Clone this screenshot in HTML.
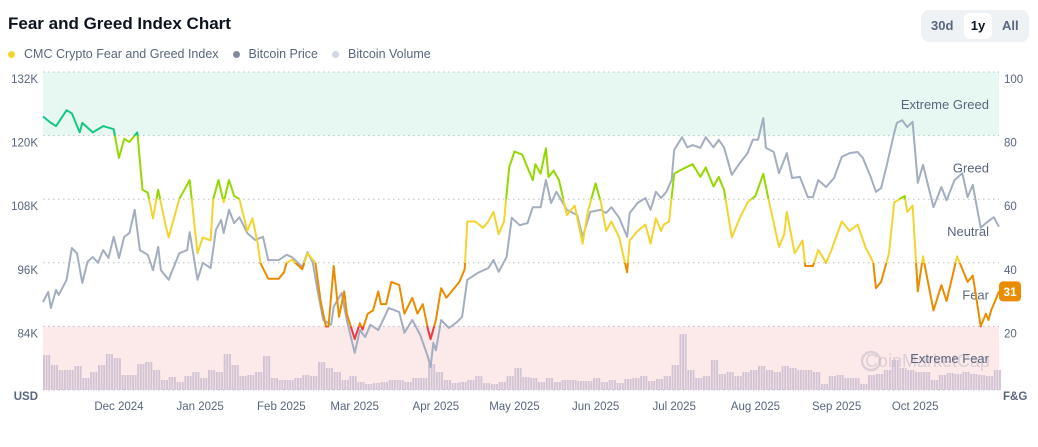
<!DOCTYPE html>
<html><head><meta charset="utf-8"><style>
body{margin:0;background:#fff;font-family:"Liberation Sans",sans-serif;width:1038px;height:447px;overflow:hidden;position:relative}
.t{position:absolute;white-space:nowrap}
</style></head><body>
<div class="t" style="left:8px;top:14px;font-size:17px;font-weight:bold;color:#0d1421">Fear and Greed Index Chart</div>
<div style="position:absolute;left:8px;top:47px;font-size:12.5px;color:#58667e;display:flex;gap:14px;align-items:center">
 <span><span style="display:inline-block;width:7px;height:7px;border-radius:50%;background:#f3d42f;margin-right:9px"></span>CMC Crypto Fear and Greed Index</span>
 <span><span style="display:inline-block;width:7px;height:7px;border-radius:50%;background:#808a9d;margin-right:9px"></span>Bitcoin Price</span>
 <span><span style="display:inline-block;width:7px;height:7px;border-radius:50%;background:#cfd6e4;margin-right:9px"></span>Bitcoin Volume</span>
</div>
<div style="position:absolute;left:921px;top:10px;width:108px;height:32px;background:#eff2f5;border-radius:8px;font-size:13px;font-weight:bold;color:#58667e">
 <span class="t" style="left:10px;top:8px">30d</span>
 <span class="t" style="left:43px;top:3px;width:28px;height:26px;background:#fff;border-radius:6px;color:#0d1421;text-align:center;line-height:26px">1y</span>
 <span class="t" style="left:81px;top:8px">All</span>
</div>
<svg id="chart" width="1038" height="447" style="position:absolute;left:0;top:0" font-family="Liberation Sans, sans-serif"></svg>
<script>
const fgDays=[0,3,5,9,11,14,15,19,23,27,29,31,33,36,38,40,42,44,47,48,52,56,59,61,64,65,67,69,71,73,75,78,80,82,83,86,90,92,93,95,99,101,104,106,108,109,111,113,115,116,119,121,122,124,126,128,129,131,133,136,138,141,143,145,147,148,150,152,154,157,159,161,162,165,168,170,172,174,176,178,180,183,185,187,188,190,192,193,195,197,200,203,206,208,211,213,215,217,220,223,224,227,230,232,234,236,237,239,241,243,248,251,253,256,258,260,263,266,269,272,275,277,281,283,284,287,290,291,294,296,299,301,305,308,311,314,317,318,320,323,325,329,330,332,334,336,340,343,345,349,353,355,358,360,361,362,365];
const fgValues=[86,84,83,88,87,81,84,81,83,82,73,79,78,81,63,62,54,63,51,48,60,66,43,48,47,60,66,59,66,61,60,50,54,46,40,35,35,37,40,41,38,43,40,28,20,20,39,23,31,24,16,21,19,24,25,31,27,27,34,33,24,29,24,27,19,16,22,32,29,32,34,38,53,53,51,53,56,49,53,70,75,74,70,66,71,68,76,67,69,66,55,58,46,56,65,59,50,53,48,37,47,50,52,46,54,50,52,53,68,69,71,67,70,64,67,63,48,54,59,61,68,60,45,49,56,43,47,39,39,44,40,44,53,50,52,45,40,32,34,43,59,61,56,58,31,42,25,33,28,42,34,36,20,24,22,25,31];
const priceDays=[0,2,3,5,6,9,11,13,15,17,19,21,23,25,27,29,31,33,35,37,40,42,44,45,48,52,55,56,59,61,64,66,68,69,71,73,75,78,81,84,86,90,93,95,99,101,103,105,107,110,111,114,116,119,121,123,125,128,132,136,138,141,144,147,148,149,150,152,155,158,160,162,166,170,172,174,177,179,182,185,187,190,192,194,196,200,204,206,209,213,215,217,220,223,224,227,230,232,234,236,238,240,241,244,246,248,251,253,256,258,260,263,266,269,271,273,275,276,279,281,284,286,289,292,294,296,299,302,305,308,311,313,316,318,320,322,325,326,328,330,332,334,336,340,343,345,348,351,353,355,358,360,363,365];
const priceValues=[88.6,90.5,87.5,90.9,89.9,92.8,98.8,97.8,92.2,96.2,97.1,96.0,98.4,96.9,100.9,96.9,100.9,101.6,106.0,98.4,97.5,94.6,99.0,94.6,92.8,97.8,98.4,101.8,92.8,96.0,95.0,102.2,104.1,101.6,106.0,103.5,104.6,101.6,100.3,100.9,96.5,96.5,97.5,97.1,95.2,98.0,96.0,90.3,85.2,84.3,87.7,90.3,85.2,79.0,83.3,82.0,84.3,83.3,87.5,86.7,82.8,85.2,82.4,78.2,76.3,80.9,79.5,85.2,83.7,84.8,85.8,92.8,94.1,95.0,96.5,94.3,97.1,104.5,103.1,103.5,106.5,106.5,111.6,107.3,109.4,106.0,105.0,100.9,105.6,106.0,105.4,106.5,104.5,100.9,105.4,107.3,108.2,106.0,109.4,108.2,109.4,111.6,117.3,119.7,117.8,118.2,117.7,119.7,117.8,119.2,117.8,112.6,114.8,116.7,119.2,119.2,123.3,117.7,116.9,112.9,116.7,112.0,112.2,108.4,108.4,111.6,110.3,112.0,116.0,116.7,116.9,115.8,112.2,109.4,110.1,114.1,120.5,122.4,122.9,121.6,122.6,111.1,114.5,106.5,110.3,107.8,111.6,112.9,108.4,110.7,102.6,103.5,104.6,102.8];
const volumeValues=[35,25,20,20,24,12,18,25,36,32,15,15,26,28,20,10,13,8,14,18,12,20,18,36,25,14,15,18,34,12,10,10,12,15,14,28,22,18,10,14,8,6,7,8,10,10,8,12,12,26,18,10,7,8,10,14,7,6,8,14,22,13,12,8,12,8,10,10,9,9,12,8,10,7,11,12,14,9,11,14,25,56,20,12,14,30,16,18,14,18,20,24,20,18,24,22,20,20,18,6,14,15,12,12,6,15,16,20,30,22,20,18,18,10,15,17,16,18,16,15,14,20];
const leftTicks=["132K","120K","108K","96K","84K"];
const rightTicks=["100","80","60","40","20"];
const monthLabels=["Dec 2024","Jan 2025","Feb 2025","Mar 2025","Apr 2025","May 2025","Jun 2025","Jul 2025","Aug 2025","Sep 2025","Oct 2025"];
const monthDays=[29,60,91,119,150,180,211,241,272,303,333];
const zoneNames=["Extreme Greed","Greed","Neutral","Fear","Extreme Fear"];
const zoneMid=[90,70,50,30,10];
const currentValue=31;

const X0=43,X1=999,Y0=390,Y1=72,DAYS=365;
const xD=d=>X0+d*(X1-X0)/DAYS;
const yF=v=>Y0-v*(Y0-Y1)/100;
const yP=p=>Y0-(p-72)*(Y0-Y1)/60;
const yV=v=>Y0-v;
const NS="http://www.w3.org/2000/svg";
const svg=document.getElementById('chart');
function mk(tag,at,parent){const e=document.createElementNS(NS,tag);for(const k in at)e.setAttribute(k,at[k]);(parent||svg).appendChild(e);return e;}

const defs=mk('defs',{});
const g=mk('linearGradient',{id:'fgGrad',gradientUnits:'userSpaceOnUse',x1:0,x2:0,y1:yF(100),y2:yF(0)},defs);
const zc=[["#16c784",80],["#93d900",60],["#f3d42f",40],["#ea8c00",20],["#ea3943",0]];
let prev=100;
zc.forEach(([c,lo])=>{const o1=(100-prev)/100,o2=(100-lo)/100;mk('stop',{offset:o1,'stop-color':c},g);mk('stop',{offset:o2,'stop-color':c},g);prev=lo;});

const b1=mk('rect',{x:X0,y:yF(100),width:X1-X0,height:yF(80)-yF(100),fill:'#e6f8f1'});


const b2=mk('rect',{x:X0,y:yF(20),width:X1-X0,height:yF(0)-yF(20),fill:'#fce9ea'});



[100,80,60,40,20,0].forEach(v=>{const l=mk('line',{x1:X0,x2:X1,y1:yF(v),y2:yF(v),stroke:'#b8bfca','stroke-width':1,'stroke-dasharray':'1.5 3.5'});

});

const dayW=xD(1)-X0;
volumeValues.forEach((v,i)=>{for(let k=0;k<3;k++){const r=mk('rect',{x:xD(i*3+k),y:yV(v),width:dayW-0.7,height:Y0-yV(v),fill:'#d2c4d4'});

}});

const wm=mk('text',{x:990,y:367,'text-anchor':'end','font-size':18,fill:'#b6b0bd',opacity:0.45});
wm.textContent='CoinMarketCap';


const wc=mk('circle',{cx:871,cy:361,r:9,fill:'none',stroke:'#b6b0bd','stroke-width':2.5,opacity:0.45});



zoneNames.forEach((n,i)=>{const t=mk('text',{x:989,y:yF(zoneMid[i])+5,'text-anchor':'end','font-size':13,fill:'#58667e'});t.textContent=n;

});

const pp=mk('path',{d:priceDays.map((d,i)=>(i?'L':'M')+xD(d).toFixed(1)+' '+yP(priceValues[i]).toFixed(1)).join(''),fill:'none',stroke:'#a3aec0','stroke-width':2,'stroke-linejoin':'round'});



const fp=mk('path',{d:fgDays.map((d,i)=>(i?'L':'M')+xD(d).toFixed(1)+' '+yF(fgValues[i]).toFixed(1)).join(''),fill:'none',stroke:'url(#fgGrad)','stroke-width':2,'stroke-linejoin':'round'});



leftTicks.forEach((s,i)=>{const t=mk('text',{x:38,y:yF(100-i*20)+11,'text-anchor':'end','font-size':11.5,fill:'#58667e'});t.textContent=s;

});
rightTicks.forEach((s,i)=>{const t=mk('text',{x:1004,y:yF(100-i*20)+11,'font-size':11.5,fill:'#58667e'});t.textContent=s;

});
const u=mk('text',{x:38,y:400,'text-anchor':'end','font-size':11.5,'font-weight':'bold',fill:'#58667e'});u.textContent='USD';


const f=mk('text',{x:1003,y:400,'font-size':11.5,'font-weight':'bold',fill:'#58667e'});f.textContent='F&G';


monthLabels.forEach((s,i)=>{const t=mk('text',{x:xD(monthDays[i]),y:410,'text-anchor':'middle','font-size':11.5,fill:'#58667e'});t.textContent=s;

});

const bg=mk('rect',{x:999,y:yF(currentValue)-10,width:22,height:20,rx:4,fill:'#ea8c00'});


const bt=mk('text',{x:1010,y:yF(currentValue)+4.5,'text-anchor':'middle','font-size':12,'font-weight':'bold',fill:'#fff'});bt.textContent=String(currentValue);


</script>
</body></html>
